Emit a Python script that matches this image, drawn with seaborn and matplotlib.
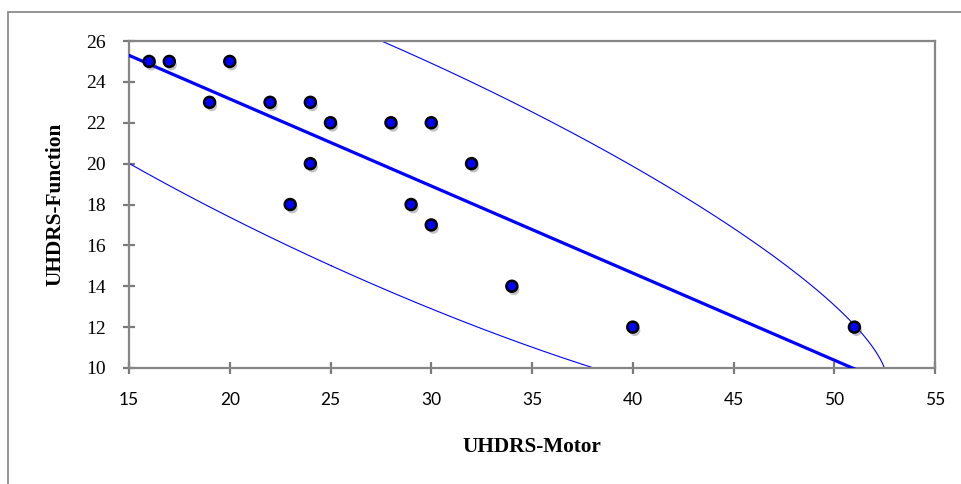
import numpy as np
import pandas as pd
import seaborn as sns
import matplotlib
matplotlib.use("Agg")
import matplotlib.pyplot as plt
import matplotlib.patheffects as pe
from matplotlib.patches import Rectangle

# ---- data ----
motor = [16, 17, 19, 20, 22, 24, 24, 23, 25, 28, 30, 29, 30, 32, 34, 40, 51]
function = [25, 25, 23, 25, 23, 23, 20, 18, 22, 22, 22, 18, 17, 20, 14, 12, 12]
x_ticks = [15, 20, 25, 30, 35, 40, 45, 50, 55]
y_ticks = [10, 12, 14, 16, 18, 20, 22, 24, 26]
x_label = "UHDRS-Motor"
y_label = "UHDRS-Function"
f_crit = 3.68  # F(0.95; 2, n-2) for the 95% prediction ellipse

df = pd.DataFrame({"motor": motor, "function": function})

sns.set_theme(style="white")

fig = plt.figure(figsize=(9.62, 4.84), dpi=100)
ax = fig.add_axes([129 / 962, 1 - 368 / 484, (935 - 129) / 962, (368 - 41) / 484])

# outer chart-area frame (cropped at right/bottom like the reference)
fig.patches.append(Rectangle((8 / 962, -0.1), 1.2, 1 - 12 / 484 + 0.1,
                             transform=fig.transFigure, fill=False,
                             edgecolor="#8c8c8c", linewidth=1.3, zorder=0))

ax.set_xlim(15, 55)
ax.set_ylim(10, 26)

# 95% prediction ellipse from the data
n = len(motor)
xy = np.column_stack([motor, function]).astype(float)
mu = xy.mean(axis=0)
cov = np.cov(xy.T)
c2 = 2 * (n - 1) * (n + 1) / (n * (n - 2)) * f_crit
vals, vecs = np.linalg.eigh(cov)
t = np.linspace(0, 2 * np.pi, 600)
circ = np.vstack([np.cos(t), np.sin(t)])
ell = (vecs @ np.diag(np.sqrt(vals * c2)) @ circ).T + mu
ax.plot(ell[:, 0], ell[:, 1], color="#0000ff", lw=0.8, zorder=2)

# regression line + points
sns.regplot(data=df, x="motor", y="function", ax=ax, ci=None, truncate=False,
            scatter=False, line_kws=dict(color="#0000ff", lw=2.3, zorder=3))
sns.scatterplot(data=df, x="motor", y="function", ax=ax, s=62,
                color="#0000ff", edgecolor="black", linewidth=1.8, zorder=4)
coll = ax.collections[-1]
coll.set_path_effects([pe.SimplePatchShadow(offset=(1.5, -2.5), shadow_rgbFace="#555555", alpha=0.35),
                       pe.Normal()])

ax.set_xlabel("")
ax.set_ylabel("")
ax.set_xlim(15, 55)
ax.set_ylim(10, 26)
ax.set_xticks(x_ticks)
ax.set_yticks(y_ticks)

for s in ax.spines.values():
    s.set_color("#868686")
    s.set_linewidth(1.6)

ax.tick_params(axis="both", which="major", direction="inout", length=8.5, width=1.6,
               color="#7a7a7a", bottom=True, left=True, labelcolor="black")
ax.tick_params(axis="x", pad=13, labelfontfamily="Lato", labelsize=12.5)
ax.tick_params(axis="y", pad=12.5, labelfontfamily="Liberation Serif", labelsize=14)

fig.text(532 / 962, 1 - 447 / 484, x_label, ha="center", va="center",
         fontfamily="Liberation Serif", fontweight="bold", fontsize=15.3, color="black")
fig.text(55 / 962, 1 - 204 / 484, y_label, ha="center", va="center", rotation=90,
         fontfamily="Liberation Serif", fontweight="bold", fontsize=15.4, color="black")

fig.savefig("out.png", dpi=100)
